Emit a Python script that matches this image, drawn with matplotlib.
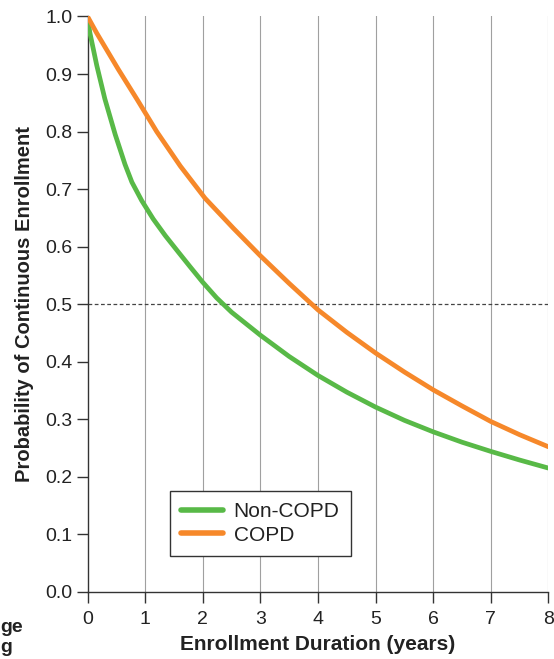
import matplotlib
matplotlib.use("Agg")
import matplotlib.pyplot as plt

plt.rcParams["font.family"] = ["Liberation Sans", "DejaVu Sans"]

GREEN = "#58b947"
ORANGE = "#f6882a"
SPINE = "#333333"
GRID = "#a0a0a0"

# data
years_non = [0, 0.04, 0.16, 0.30, 0.48, 0.65, 0.77, 0.94, 1.14, 1.35, 1.58, 1.78,
             2.0, 2.24, 2.5, 3.0, 3.5, 4.0, 4.5, 5.0, 5.5, 6.0, 6.5,
             7.0, 7.5, 8.0]
non_copd = [1.0, 0.972, 0.915, 0.857, 0.795, 0.743, 0.712, 0.680, 0.648, 0.619,
            0.590, 0.565, 0.538, 0.511, 0.486, 0.446, 0.409, 0.376, 0.347,
            0.321, 0.298, 0.278, 0.260, 0.244, 0.229, 0.215]

years_copd = [0, 0.16, 0.535, 0.865, 1.20, 1.61, 2.04, 2.53, 3.0, 3.5, 4.0,
              4.5, 5.0, 5.5, 6.0, 6.5, 7.0, 7.5, 8.0]
copd = [1.0, 0.971, 0.908, 0.855, 0.800, 0.740, 0.684, 0.632, 0.584, 0.536,
        0.490, 0.451, 0.415, 0.382, 0.351, 0.323, 0.296, 0.273, 0.252]

x_ticks = [0, 1, 2, 3, 4, 5, 6, 7, 8]
y_ticks = [0.0, 0.1, 0.2, 0.3, 0.4, 0.5, 0.6, 0.7, 0.8, 0.9, 1.0]

fig = plt.figure(figsize=(5.54, 6.59), dpi=100)
ax = fig.add_axes([0.158, 0.102, 0.832, 0.873])

for x in x_ticks[1:]:
    ax.axvline(x, color=GRID, linewidth=0.8, zorder=1)
ax.axhline(0.5, color="#444444", linewidth=0.9, linestyle=(0, (3, 2)), zorder=1)

ax.plot(years_non, non_copd, color=GREEN, linewidth=3.4, label="Non-COPD",
        solid_capstyle="round", solid_joinstyle="round", zorder=3)
ax.plot(years_copd, copd, color=ORANGE, linewidth=3.4, label="COPD",
        solid_capstyle="round", solid_joinstyle="round", zorder=3)

ax.set_xlim(0, 8)
ax.set_ylim(0, 1.0)
ax.set_xticks(x_ticks)
ax.set_yticks(y_ticks)
ax.set_yticklabels([f"{v:.1f}" for v in y_ticks])

ax.spines[["top", "right"]].set_visible(False)
ax.spines["left"].set_color(SPINE)
ax.spines["bottom"].set_color(SPINE)
ax.spines["left"].set_linewidth(1.0)
ax.spines["bottom"].set_linewidth(1.0)
ax.tick_params(axis="both", direction="out", length=8, width=1.0, color=SPINE,
               labelsize=14, labelcolor="#222222")
ax.tick_params(axis="x", pad=6)
ax.tick_params(axis="y", pad=3)

ax.set_xlabel("Enrollment Duration (years)", fontsize=15, fontweight="bold",
              labelpad=5, color="#222222")
ax.set_ylabel("Probability of Continuous Enrollment", fontsize=14.5, fontweight="bold",
              labelpad=8, color="#222222")

leg = ax.legend(loc="lower left", bbox_to_anchor=(0.179, 0.062), borderaxespad=0,
                fontsize=15, handlelength=2.0, handletextpad=0.5, fancybox=False,
                borderpad=0.55, labelspacing=0.2)
leg.get_frame().set_edgecolor("#333333")
leg.get_frame().set_linewidth(1.0)
leg.get_frame().set_alpha(1)
for line in leg.get_lines():
    line.set_linewidth(4)
for t in leg.get_texts():
    t.set_color("#222222")

# caption fragments at the left edge
fig.text(0.0, 0.041, "ge", ha="left", va="baseline", fontsize=14, fontweight="bold",
         color="#222222")
fig.text(0.0, 0.0106, "g", ha="left", va="baseline", fontsize=14, fontweight="bold",
         color="#222222")

fig.savefig("out.png", dpi=100)
